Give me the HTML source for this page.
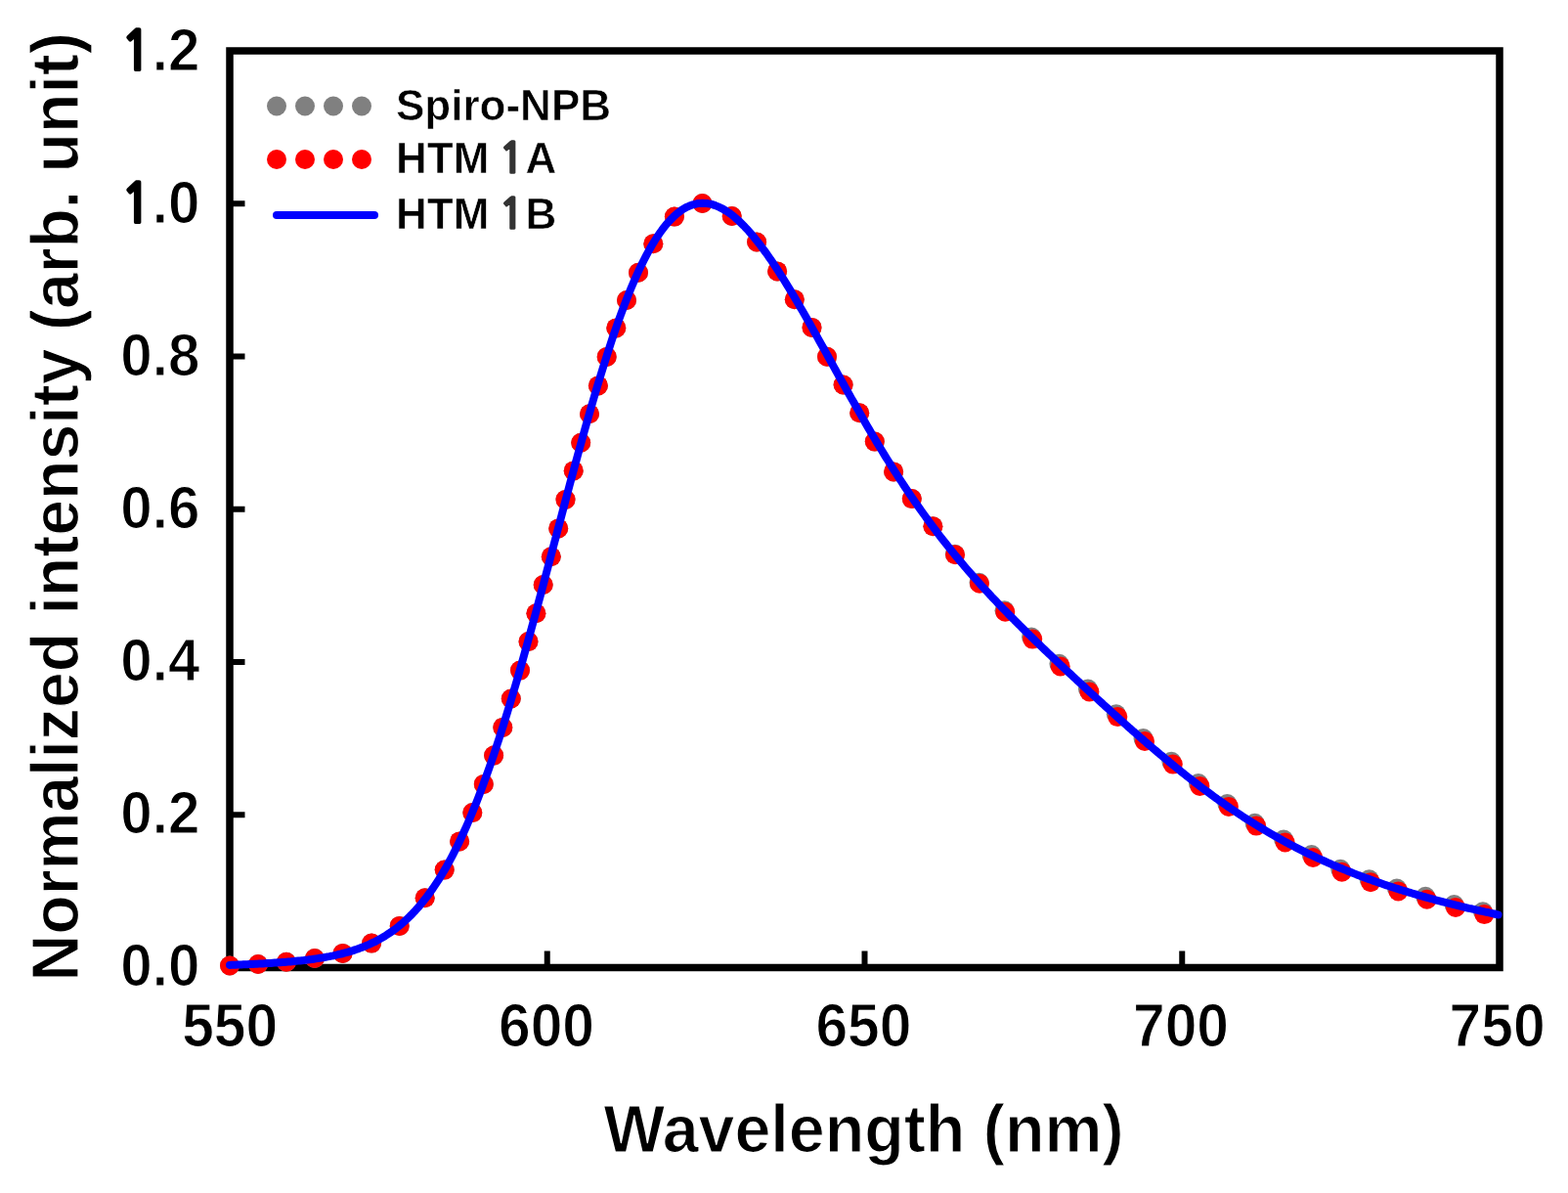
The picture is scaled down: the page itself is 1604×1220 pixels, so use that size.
<!DOCTYPE html>
<html><head><meta charset="utf-8"><title>Normalized EL spectra</title><style>
html,body{margin:0;padding:0;background:#fff;width:1604px;height:1220px;overflow:hidden;}
svg{display:block;}
</style></head><body>
<svg width="1604" height="1220" viewBox="0 0 1604 1220">
<rect x="0" y="0" width="1604" height="1220" fill="#fff"/>
<rect x="235.0" y="52.0" width="1299.0" height="937.5" fill="none" stroke="#000" stroke-width="7.5"/>
<g stroke="#000" stroke-width="6"><line x1="235.0" y1="833.25" x2="250.5" y2="833.25"/><line x1="235.0" y1="677.00" x2="250.5" y2="677.00"/><line x1="235.0" y1="520.75" x2="250.5" y2="520.75"/><line x1="235.0" y1="364.50" x2="250.5" y2="364.50"/><line x1="235.0" y1="208.25" x2="250.5" y2="208.25"/><line x1="559.75" y1="989.5" x2="559.75" y2="972.5"/><line x1="884.50" y1="989.5" x2="884.50" y2="972.5"/><line x1="1209.25" y1="989.5" x2="1209.25" y2="972.5"/></g>
<g fill="#808080"><circle cx="235.0" cy="987.5" r="10.0"/><circle cx="264.0" cy="986.0" r="10.0"/><circle cx="292.9" cy="983.7" r="10.0"/><circle cx="321.9" cy="980.0" r="10.0"/><circle cx="350.6" cy="974.9" r="10.0"/><circle cx="380.1" cy="964.6" r="10.0"/><circle cx="408.7" cy="946.9" r="10.0"/><circle cx="434.7" cy="918.3" r="10.0"/><circle cx="454.7" cy="889.6" r="10.0"/><circle cx="470.1" cy="860.4" r="10.0"/><circle cx="483.3" cy="831.1" r="10.0"/><circle cx="494.8" cy="801.9" r="10.0"/><circle cx="505.1" cy="772.6" r="10.0"/><circle cx="514.3" cy="743.9" r="10.0"/><circle cx="522.8" cy="714.5" r="10.0"/><circle cx="532.0" cy="685.6" r="10.0"/><circle cx="540.5" cy="656.1" r="10.0"/><circle cx="548.4" cy="627.2" r="10.0"/><circle cx="555.7" cy="598.0" r="10.0"/><circle cx="563.8" cy="569.2" r="10.0"/><circle cx="571.2" cy="540.4" r="10.0"/><circle cx="578.5" cy="510.9" r="10.0"/><circle cx="586.7" cy="481.4" r="10.0"/><circle cx="594.2" cy="452.7" r="10.0"/><circle cx="603.0" cy="423.2" r="10.0"/><circle cx="611.9" cy="394.4" r="10.0"/><circle cx="620.7" cy="364.9" r="10.0"/><circle cx="630.3" cy="335.4" r="10.0"/><circle cx="641.0" cy="307.0" r="10.0"/><circle cx="653.0" cy="278.7" r="10.0"/><circle cx="668.3" cy="249.2" r="10.0"/><circle cx="689.9" cy="221.6" r="10.0"/><circle cx="718.5" cy="208.0" r="10.0"/><circle cx="748.7" cy="221.0" r="10.0"/><circle cx="774.1" cy="247.5" r="10.0"/><circle cx="795.1" cy="277.4" r="10.0"/><circle cx="812.8" cy="306.2" r="10.0"/><circle cx="830.5" cy="334.9" r="10.0"/><circle cx="846.0" cy="364.8" r="10.0"/><circle cx="862.6" cy="393.5" r="10.0"/><circle cx="879.2" cy="422.3" r="10.0"/><circle cx="894.8" cy="451.6" r="10.0"/><circle cx="914.1" cy="482.4" r="10.0"/><circle cx="932.8" cy="510.1" r="10.0"/><circle cx="954.4" cy="538.2" r="10.0"/><circle cx="976.8" cy="566.8" r="10.0"/><circle cx="1001.5" cy="595.8" r="10.0"/><circle cx="1027.5" cy="624.2" r="10.0"/><circle cx="1055.1" cy="651.5" r="10.0"/><circle cx="1083.4" cy="678.8" r="10.0"/><circle cx="1112.9" cy="704.6" r="10.0"/><circle cx="1141.8" cy="730.2" r="10.0"/><circle cx="1169.5" cy="755.1" r="10.0"/><circle cx="1198.3" cy="778.7" r="10.0"/><circle cx="1225.9" cy="801.0" r="10.0"/><circle cx="1255.4" cy="822.0" r="10.0"/><circle cx="1283.6" cy="841.7" r="10.0"/><circle cx="1313.1" cy="858.6" r="10.0"/><circle cx="1341.7" cy="874.1" r="10.0"/><circle cx="1371.2" cy="888.8" r="10.0"/><circle cx="1400.6" cy="899.3" r="10.0"/><circle cx="1428.9" cy="908.5" r="10.0"/><circle cx="1458.2" cy="916.8" r="10.0"/><circle cx="1487.5" cy="925.0" r="10.0"/><circle cx="1516.9" cy="932.2" r="10.0"/></g>
<g fill="#ff0000"><circle cx="235.0" cy="987.5" r="10.0"/><circle cx="264.0" cy="986.0" r="10.0"/><circle cx="292.9" cy="983.7" r="10.0"/><circle cx="321.9" cy="980.0" r="10.0"/><circle cx="350.6" cy="974.9" r="10.0"/><circle cx="380.1" cy="964.6" r="10.0"/><circle cx="408.7" cy="946.9" r="10.0"/><circle cx="434.7" cy="918.3" r="10.0"/><circle cx="454.7" cy="889.6" r="10.0"/><circle cx="470.1" cy="860.4" r="10.0"/><circle cx="483.3" cy="831.1" r="10.0"/><circle cx="494.8" cy="801.9" r="10.0"/><circle cx="505.1" cy="772.6" r="10.0"/><circle cx="514.3" cy="743.9" r="10.0"/><circle cx="522.8" cy="714.5" r="10.0"/><circle cx="532.0" cy="685.6" r="10.0"/><circle cx="540.5" cy="656.1" r="10.0"/><circle cx="548.4" cy="627.2" r="10.0"/><circle cx="555.7" cy="598.0" r="10.0"/><circle cx="563.8" cy="569.2" r="10.0"/><circle cx="571.2" cy="540.4" r="10.0"/><circle cx="578.5" cy="510.9" r="10.0"/><circle cx="586.7" cy="481.4" r="10.0"/><circle cx="594.2" cy="452.7" r="10.0"/><circle cx="603.0" cy="423.2" r="10.0"/><circle cx="611.9" cy="394.4" r="10.0"/><circle cx="620.7" cy="364.9" r="10.0"/><circle cx="630.3" cy="335.4" r="10.0"/><circle cx="641.0" cy="307.0" r="10.0"/><circle cx="653.0" cy="278.7" r="10.0"/><circle cx="668.3" cy="249.2" r="10.0"/><circle cx="689.9" cy="221.6" r="10.0"/><circle cx="718.5" cy="208.0" r="10.0"/><circle cx="748.7" cy="221.0" r="10.0"/><circle cx="774.1" cy="247.5" r="10.0"/><circle cx="795.1" cy="277.4" r="10.0"/><circle cx="812.8" cy="306.2" r="10.0"/><circle cx="830.5" cy="334.9" r="10.0"/><circle cx="846.0" cy="364.8" r="10.0"/><circle cx="862.6" cy="393.5" r="10.0"/><circle cx="879.2" cy="422.3" r="10.0"/><circle cx="894.8" cy="451.6" r="10.0"/><circle cx="914.1" cy="482.4" r="10.0"/><circle cx="932.8" cy="510.1" r="10.0"/><circle cx="954.4" cy="538.3" r="10.0"/><circle cx="977.1" cy="567.3" r="10.0"/><circle cx="1002.0" cy="596.8" r="10.0"/><circle cx="1028.3" cy="625.7" r="10.0"/><circle cx="1056.2" cy="653.6" r="10.0"/><circle cx="1084.7" cy="681.4" r="10.0"/><circle cx="1114.4" cy="707.5" r="10.0"/><circle cx="1143.3" cy="733.1" r="10.0"/><circle cx="1171.0" cy="758.0" r="10.0"/><circle cx="1199.8" cy="781.6" r="10.0"/><circle cx="1227.4" cy="803.9" r="10.0"/><circle cx="1256.9" cy="824.9" r="10.0"/><circle cx="1285.1" cy="844.6" r="10.0"/><circle cx="1314.6" cy="861.5" r="10.0"/><circle cx="1343.2" cy="877.0" r="10.0"/><circle cx="1372.7" cy="891.7" r="10.0"/><circle cx="1402.1" cy="902.2" r="10.0"/><circle cx="1430.4" cy="911.4" r="10.0"/><circle cx="1459.7" cy="919.7" r="10.0"/><circle cx="1489.0" cy="927.9" r="10.0"/><circle cx="1518.4" cy="935.1" r="10.0"/></g>
<path d="M235.0,986.9 L237.0,986.8 L239.0,986.7 L241.0,986.7 L243.0,986.6 L245.0,986.5 L247.0,986.4 L249.0,986.3 L251.0,986.3 L253.0,986.2 L255.0,986.1 L257.0,986.0 L259.0,985.9 L261.0,985.8 L263.0,985.7 L265.0,985.6 L267.0,985.5 L269.0,985.4 L271.0,985.2 L273.0,985.1 L275.0,985.0 L277.0,984.9 L279.0,984.7 L281.0,984.6 L283.0,984.5 L285.0,984.3 L287.0,984.2 L289.0,984.0 L291.0,983.9 L293.0,983.7 L295.0,983.5 L297.0,983.4 L299.0,983.2 L301.0,983.0 L303.0,982.8 L305.0,982.6 L307.0,982.4 L309.0,982.2 L311.0,982.0 L313.0,981.7 L315.0,981.5 L317.0,981.2 L319.0,981.0 L321.0,980.7 L323.0,980.4 L325.0,980.1 L327.0,979.8 L329.0,979.5 L331.0,979.2 L333.0,978.8 L335.0,978.4 L337.0,978.1 L339.0,977.7 L341.0,977.3 L343.0,976.8 L345.0,976.4 L347.0,975.9 L349.0,975.5 L351.0,975.0 L353.0,974.4 L355.0,973.9 L357.0,973.3 L359.0,972.7 L361.0,972.1 L363.0,971.4 L364.9,970.8 L366.9,970.1 L368.9,969.3 L370.9,968.6 L372.9,967.8 L374.9,966.9 L376.9,966.1 L378.9,965.2 L380.9,964.2 L382.9,963.3 L384.9,962.3 L386.9,961.2 L388.9,960.1 L390.9,958.9 L392.9,957.8 L394.9,956.5 L396.9,955.2 L398.9,953.9 L400.9,952.5 L402.9,951.1 L404.9,949.6 L406.9,948.0 L408.9,946.4 L410.9,944.7 L412.9,943.0 L414.9,941.2 L416.9,939.3 L418.9,937.4 L420.9,935.4 L422.9,933.3 L424.9,931.2 L426.9,928.9 L428.9,926.7 L430.9,924.3 L432.9,921.8 L434.9,919.3 L436.9,916.7 L438.9,914.0 L440.9,911.2 L442.9,908.4 L444.9,905.4 L446.9,902.4 L448.9,899.3 L450.9,896.1 L452.9,892.8 L454.9,889.4 L456.9,885.9 L458.9,882.3 L460.9,878.6 L462.9,874.8 L464.9,870.9 L466.9,867.0 L468.9,862.9 L470.9,858.7 L472.9,854.4 L474.9,850.0 L476.9,845.6 L478.9,841.0 L480.9,836.3 L482.9,831.5 L484.9,826.6 L486.9,821.7 L488.9,816.6 L490.9,811.4 L492.9,806.1 L494.9,800.7 L496.9,795.2 L498.9,789.7 L500.9,784.0 L502.9,778.2 L504.9,772.4 L506.9,766.4 L508.9,760.3 L510.9,754.2 L512.9,748.0 L514.9,741.7 L516.9,735.3 L518.9,728.8 L520.9,722.2 L522.9,715.6 L524.9,708.9 L526.9,702.1 L528.9,695.3 L530.9,688.3 L532.9,681.3 L534.9,674.3 L536.9,667.2 L538.9,660.0 L540.9,652.8 L542.9,645.5 L544.9,638.2 L546.9,630.9 L548.9,623.5 L550.9,616.0 L552.9,608.6 L554.9,601.1 L556.9,593.6 L558.9,586.0 L560.9,578.5 L562.9,570.9 L564.9,563.3 L566.9,555.7 L568.9,548.2 L570.9,540.6 L572.9,533.0 L574.9,525.4 L576.9,517.9 L578.9,510.3 L580.9,502.8 L582.9,495.3 L584.9,487.9 L586.9,480.5 L588.9,473.1 L590.9,465.7 L592.9,458.5 L594.9,451.2 L596.9,444.0 L598.9,436.9 L600.9,429.8 L602.9,422.8 L604.9,415.9 L606.9,409.0 L608.9,402.2 L610.9,395.5 L612.9,388.9 L614.9,382.4 L616.9,375.9 L618.9,369.6 L620.9,363.3 L622.9,357.1 L624.8,351.1 L626.8,345.1 L628.8,339.3 L630.8,333.5 L632.8,327.9 L634.8,322.4 L636.8,317.0 L638.8,311.7 L640.8,306.5 L642.8,301.5 L644.8,296.6 L646.8,291.8 L648.8,287.1 L650.8,282.6 L652.8,278.2 L654.8,273.9 L656.8,269.7 L658.8,265.7 L660.8,261.8 L662.8,258.1 L664.8,254.5 L666.8,251.0 L668.8,247.7 L670.8,244.5 L672.8,241.4 L674.8,238.5 L676.8,235.7 L678.8,233.0 L680.8,230.5 L682.8,228.1 L684.8,225.9 L686.8,223.8 L688.8,221.8 L690.8,220.0 L692.8,218.2 L694.8,216.7 L696.8,215.2 L698.8,213.9 L700.8,212.7 L702.8,211.7 L704.8,210.8 L706.8,210.0 L708.8,209.3 L710.8,208.8 L712.8,208.3 L714.8,208.0 L716.8,207.9 L718.8,207.8 L720.8,207.9 L722.8,208.0 L724.8,208.3 L726.8,208.7 L728.8,209.2 L730.8,209.8 L732.8,210.6 L734.8,211.4 L736.8,212.3 L738.8,213.3 L740.8,214.5 L742.8,215.7 L744.8,217.0 L746.8,218.4 L748.8,219.9 L750.8,221.5 L752.8,223.2 L754.8,225.0 L756.8,226.8 L758.8,228.8 L760.8,230.8 L762.8,232.9 L764.8,235.0 L766.8,237.3 L768.8,239.6 L770.8,241.9 L772.8,244.4 L774.8,246.9 L776.8,249.4 L778.8,252.1 L780.8,254.8 L782.8,257.5 L784.8,260.3 L786.8,263.2 L788.8,266.1 L790.8,269.0 L792.8,272.0 L794.8,275.0 L796.8,278.1 L798.8,281.3 L800.8,284.4 L802.8,287.6 L804.8,290.9 L806.8,294.1 L808.8,297.4 L810.8,300.8 L812.8,304.1 L814.8,307.5 L816.8,310.9 L818.8,314.4 L820.8,317.8 L822.8,321.3 L824.8,324.8 L826.8,328.3 L828.8,331.8 L830.8,335.4 L832.8,338.9 L834.8,342.5 L836.8,346.1 L838.8,349.7 L840.8,353.2 L842.8,356.8 L844.8,360.4 L846.8,364.0 L848.8,367.7 L850.8,371.3 L852.8,374.9 L854.8,378.5 L856.8,382.1 L858.8,385.7 L860.8,389.2 L862.8,392.8 L864.8,396.4 L866.8,400.0 L868.8,403.5 L870.8,407.1 L872.8,410.6 L874.8,414.1 L876.8,417.6 L878.8,421.1 L880.8,424.6 L882.8,428.1 L884.7,431.5 L886.7,435.0 L888.7,438.4 L890.7,441.8 L892.7,445.2 L894.7,448.5 L896.7,451.9 L898.7,455.2 L900.7,458.5 L902.7,461.8 L904.7,465.1 L906.7,468.3 L908.7,471.5 L910.7,474.7 L912.7,477.9 L914.7,481.1 L916.7,484.2 L918.7,487.3 L920.7,490.4 L922.7,493.4 L924.7,496.5 L926.7,499.5 L928.7,502.5 L930.7,505.4 L932.7,508.4 L934.7,511.3 L936.7,514.2 L938.7,517.1 L940.7,519.9 L942.7,522.7 L944.7,525.5 L946.7,528.3 L948.7,531.0 L950.7,533.8 L952.7,536.5 L954.7,539.2 L956.7,541.8 L958.7,544.5 L960.7,547.1 L962.7,549.7 L964.7,552.2 L966.7,554.8 L968.7,557.3 L970.7,559.8 L972.7,562.3 L974.7,564.8 L976.7,567.2 L978.7,569.6 L980.7,572.1 L982.7,574.4 L984.7,576.8 L986.7,579.2 L988.7,581.5 L990.7,583.8 L992.7,586.1 L994.7,588.4 L996.7,590.7 L998.7,592.9 L1000.7,595.1 L1002.7,597.4 L1004.7,599.6 L1006.7,601.8 L1008.7,603.9 L1010.7,606.1 L1012.7,608.2 L1014.7,610.4 L1016.7,612.5 L1018.7,614.6 L1020.7,616.7 L1022.7,618.8 L1024.7,620.9 L1026.7,623.0 L1028.7,625.0 L1030.7,627.1 L1032.7,629.1 L1034.7,631.1 L1036.7,633.1 L1038.7,635.2 L1040.7,637.2 L1042.7,639.2 L1044.7,641.1 L1046.7,643.1 L1048.7,645.1 L1050.7,647.1 L1052.7,649.0 L1054.7,651.0 L1056.7,652.9 L1058.7,654.9 L1060.7,656.8 L1062.7,658.7 L1064.7,660.7 L1066.7,662.6 L1068.7,664.5 L1070.7,666.4 L1072.7,668.3 L1074.7,670.2 L1076.7,672.1 L1078.7,674.0 L1080.7,675.9 L1082.7,677.8 L1084.7,679.7 L1086.7,681.5 L1088.7,683.4 L1090.7,685.3 L1092.7,687.2 L1094.7,689.0 L1096.7,690.9 L1098.7,692.8 L1100.7,694.6 L1102.7,696.5 L1104.7,698.3 L1106.7,700.2 L1108.7,702.0 L1110.7,703.9 L1112.7,705.7 L1114.7,707.6 L1116.7,709.4 L1118.7,711.2 L1120.7,713.1 L1122.7,714.9 L1124.7,716.7 L1126.7,718.5 L1128.7,720.4 L1130.7,722.2 L1132.7,724.0 L1134.7,725.8 L1136.7,727.6 L1138.7,729.4 L1140.7,731.2 L1142.7,733.0 L1144.6,734.8 L1146.6,736.6 L1148.6,738.3 L1150.6,740.1 L1152.6,741.9 L1154.6,743.7 L1156.6,745.4 L1158.6,747.2 L1160.6,748.9 L1162.6,750.7 L1164.6,752.4 L1166.6,754.2 L1168.6,755.9 L1170.6,757.6 L1172.6,759.4 L1174.6,761.1 L1176.6,762.8 L1178.6,764.5 L1180.6,766.2 L1182.6,767.9 L1184.6,769.6 L1186.6,771.3 L1188.6,772.9 L1190.6,774.6 L1192.6,776.3 L1194.6,777.9 L1196.6,779.6 L1198.6,781.2 L1200.6,782.9 L1202.6,784.5 L1204.6,786.1 L1206.6,787.7 L1208.6,789.3 L1210.6,790.9 L1212.6,792.5 L1214.6,794.1 L1216.6,795.6 L1218.6,797.2 L1220.6,798.7 L1222.6,800.3 L1224.6,801.8 L1226.6,803.3 L1228.6,804.9 L1230.6,806.4 L1232.6,807.9 L1234.6,809.3 L1236.6,810.8 L1238.6,812.3 L1240.6,813.8 L1242.6,815.2 L1244.6,816.6 L1246.6,818.1 L1248.6,819.5 L1250.6,820.9 L1252.6,822.3 L1254.6,823.7 L1256.6,825.1 L1258.6,826.5 L1260.6,827.8 L1262.6,829.2 L1264.6,830.5 L1266.6,831.8 L1268.6,833.2 L1270.6,834.5 L1272.6,835.8 L1274.6,837.1 L1276.6,838.4 L1278.6,839.6 L1280.6,840.9 L1282.6,842.1 L1284.6,843.4 L1286.6,844.6 L1288.6,845.8 L1290.6,847.0 L1292.6,848.2 L1294.6,849.4 L1296.6,850.6 L1298.6,851.8 L1300.6,852.9 L1302.6,854.1 L1304.6,855.2 L1306.6,856.3 L1308.6,857.5 L1310.6,858.6 L1312.6,859.7 L1314.6,860.8 L1316.6,861.8 L1318.6,862.9 L1320.6,864.0 L1322.6,865.0 L1324.6,866.1 L1326.6,867.1 L1328.6,868.1 L1330.6,869.1 L1332.6,870.1 L1334.6,871.1 L1336.6,872.1 L1338.6,873.1 L1340.6,874.0 L1342.6,875.0 L1344.6,875.9 L1346.6,876.9 L1348.6,877.8 L1350.6,878.7 L1352.6,879.6 L1354.6,880.5 L1356.6,881.4 L1358.6,882.3 L1360.6,883.2 L1362.6,884.1 L1364.6,884.9 L1366.6,885.8 L1368.6,886.6 L1370.6,887.5 L1372.6,888.3 L1374.6,889.1 L1376.6,889.9 L1378.6,890.7 L1380.6,891.5 L1382.6,892.3 L1384.6,893.1 L1386.6,893.9 L1388.6,894.7 L1390.6,895.4 L1392.6,896.2 L1394.6,896.9 L1396.6,897.7 L1398.6,898.4 L1400.6,899.1 L1402.6,899.8 L1404.5,900.6 L1406.5,901.3 L1408.5,902.0 L1410.5,902.6 L1412.5,903.3 L1414.5,904.0 L1416.5,904.7 L1418.5,905.4 L1420.5,906.0 L1422.5,906.7 L1424.5,907.3 L1426.5,908.0 L1428.5,908.6 L1430.5,909.2 L1432.5,909.9 L1434.5,910.5 L1436.5,911.1 L1438.5,911.7 L1440.5,912.3 L1442.5,912.9 L1444.5,913.5 L1446.5,914.1 L1448.5,914.7 L1450.5,915.3 L1452.5,915.8 L1454.5,916.4 L1456.5,917.0 L1458.5,917.5 L1460.5,918.1 L1462.5,918.6 L1464.5,919.2 L1466.5,919.7 L1468.5,920.3 L1470.5,920.8 L1472.5,921.3 L1474.5,921.8 L1476.5,922.4 L1478.5,922.9 L1480.5,923.4 L1482.5,923.9 L1484.5,924.4 L1486.5,924.9 L1488.5,925.4 L1490.5,925.9 L1492.5,926.4 L1494.5,926.9 L1496.5,927.3 L1498.5,927.8 L1500.5,928.3 L1502.5,928.8 L1504.5,929.2 L1506.5,929.7 L1508.5,930.1 L1510.5,930.6 L1512.5,931.0 L1514.5,931.5 L1516.5,931.9 L1518.5,932.4 L1520.5,932.8 L1522.5,933.2 L1524.5,933.7 L1526.5,934.1 L1528.5,934.5 L1530.5,935.0 L1532.5,935.4" fill="none" stroke="#0000ff" stroke-width="8" stroke-linejoin="round" stroke-linecap="round"/>
<g font-family="Liberation Sans, Arial, sans-serif" font-weight="bold" stroke="#fff" stroke-width="1.2" stroke-linejoin="round" font-size="61.0" fill="#000"><text transform="translate(204.3,1007.55) scale(0.955,1)" text-anchor="end">0.0</text><text transform="translate(204.3,851.63) scale(0.955,1)" text-anchor="end">0.2</text><text transform="translate(204.3,695.71) scale(0.955,1)" text-anchor="end">0.4</text><text transform="translate(204.3,539.79) scale(0.955,1)" text-anchor="end">0.6</text><text transform="translate(204.3,383.87) scale(0.955,1)" text-anchor="end">0.8</text><text transform="translate(204.3,227.95) scale(0.955,1)" text-anchor="end"><tspan font-family="NanumGothic, Liberation Sans, sans-serif" font-size="56" stroke="#000" stroke-width="1.8" stroke-linejoin="miter">1</tspan>.0</text><text transform="translate(204.3,72.03) scale(0.955,1)" text-anchor="end"><tspan font-family="NanumGothic, Liberation Sans, sans-serif" font-size="56" stroke="#000" stroke-width="1.8" stroke-linejoin="miter">1</tspan>.2</text></g>
<g font-family="Liberation Sans, Arial, sans-serif" font-weight="bold" stroke="#fff" stroke-width="1.2" stroke-linejoin="round" font-size="62.5" fill="#000"><text transform="translate(235.20,1070.2) scale(0.94,1)" text-anchor="middle">550</text><text transform="translate(559.00,1070.2) scale(0.94,1)" text-anchor="middle">600</text><text transform="translate(883.40,1070.2) scale(0.94,1)" text-anchor="middle">650</text><text transform="translate(1208.00,1070.2) scale(0.94,1)" text-anchor="middle">700</text><text transform="translate(1531.60,1070.2) scale(0.94,1)" text-anchor="middle">750</text></g>
<g font-family="Liberation Sans, Arial, sans-serif" font-weight="bold" stroke="#fff" stroke-width="1.2" stroke-linejoin="round" font-size="68" fill="#000">
<text transform="translate(883.5,1178) scale(0.976,1)" text-anchor="middle">Wavelength (nm)</text>
<text transform="translate(79.5,518.3) rotate(-90) scale(0.973,1)" text-anchor="middle">Normalized intensity (arb. unit)</text>
</g>
<g fill="#808080"><circle cx="283" cy="108.5" r="10.0"/><circle cx="312" cy="108.5" r="10.0"/><circle cx="341" cy="108.5" r="10.0"/><circle cx="370" cy="108.5" r="10.0"/></g>
<g fill="#ff0000"><circle cx="283" cy="163" r="10.0"/><circle cx="312" cy="163" r="10.0"/><circle cx="341" cy="163" r="10.0"/><circle cx="370" cy="163" r="10.0"/></g>
<line x1="283" y1="220" x2="383" y2="220" stroke="#0000ff" stroke-width="8" stroke-linecap="round"/>
<g font-family="Liberation Sans, Arial, sans-serif" font-weight="bold" stroke="#fff" stroke-width="0.6" stroke-linejoin="round" font-size="44" fill="#000">
<text x="405" y="122.5">Spiro-NPB</text>
<text x="405" y="177">HTM <tspan font-family="NanumGothic, Liberation Sans, sans-serif" fill="#333" stroke="#333" stroke-width="1.4" stroke-linejoin="miter" font-size="44" dx="-2.5">1</tspan><tspan dx="0.8">A</tspan></text>
<text x="405" y="234">HTM <tspan font-family="NanumGothic, Liberation Sans, sans-serif" fill="#333" stroke="#333" stroke-width="1.4" stroke-linejoin="miter" font-size="44" dx="-2.5">1</tspan><tspan dx="0.8">B</tspan></text>
</g>
</svg>
</body></html>
